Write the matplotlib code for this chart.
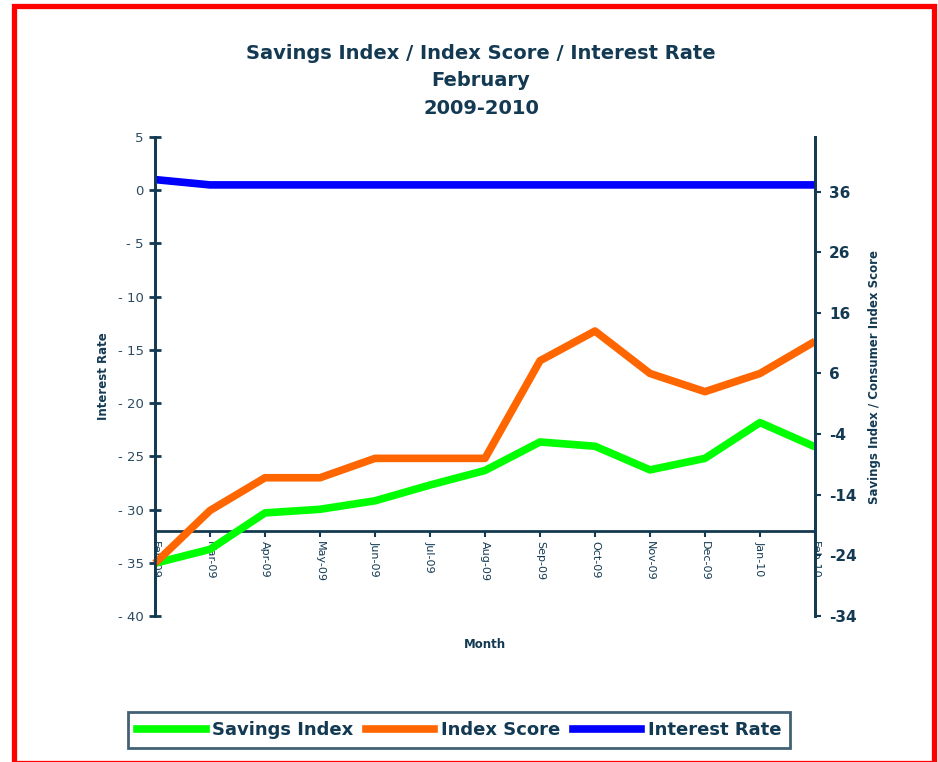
import matplotlib
matplotlib.use("Agg")
import matplotlib.pyplot as plt
from matplotlib.patches import Rectangle
from matplotlib.lines import Line2D

months = ['Feb-09', 'Mar-09', 'Apr-09', 'May-09', 'Jun-09', 'Jul-09', 'Aug-09',
          'Sep-09', 'Oct-09', 'Nov-09', 'Dec-09', 'Jan-10', 'Feb-10']
savings_index = [-25.3, -23, -17, -16.4, -15, -12.4, -10, -5.3, -6, -9.9, -8, -2.1, -6.1]
index_score = [-25.3, -16.6, -11.2, -11.2, -8, -8, -8, 8.1, 13, 6, 3, 6, 11.3]
interest_rate = [1.0, 0.5, 0.5, 0.5, 0.5, 0.5, 0.5, 0.5, 0.5, 0.5, 0.5, 0.5, 0.5]

left_ticks = [5, 0, -5, -10, -15, -20, -25, -30, -35, -40]
right_ticks = [-34, -24, -14, -4, 6, 16, 26, 36]

navy = '#133a52'
W, H = 938, 762

fig = plt.figure(figsize=(W / 100, H / 100), dpi=100)
ax = fig.add_axes([155 / W, 1 - 616 / H, 660 / W, 479 / H])
ax2 = ax.twinx()

x = list(range(len(months)))
ax.plot(x, interest_rate, color='#0000ff', lw=5.5, solid_capstyle='butt', clip_on=False, zorder=5)
ax2.plot(x, savings_index, color='#00ff00', lw=5.5, solid_capstyle='butt', clip_on=False)
ax2.plot(x, index_score, color='#ff6600', lw=5.5, solid_capstyle='butt', clip_on=False)

ax.set_xlim(0, 12)
ax.set_ylim(-40, 5)
ax2.set_ylim(-34, 45)
ax.patch.set_visible(False)

for a in (ax, ax2):
    for s in a.spines.values():
        s.set_color(navy)
        s.set_linewidth(2)
    a.spines['top'].set_visible(False)
ax2.spines['bottom'].set_visible(False)
ax.spines['bottom'].set_position(('data', -32))

ax.set_yticks(left_ticks)
ax.set_yticklabels([str(v) if v >= 0 else '- ' + str(-v) for v in left_ticks],
                   fontsize=9.5, color='#2b4a60')
ax.tick_params(axis='y', direction='inout', length=8, width=2, color=navy, pad=4)

ax2.set_yticks(right_ticks)
ax2.set_yticklabels([str(v).replace('\u2212', '-') for v in right_ticks],
                    fontsize=11, fontweight='bold', color=navy)
ax2.tick_params(axis='y', direction='out', length=4, width=1.5, color=navy, pad=6)

ax.set_xticks(x)
ax.set_xticklabels(months, rotation=270, fontsize=8, color=navy, va='top', ha='center')
ax.tick_params(axis='x', direction='out', length=4, width=1.5, color=navy, pad=3)

ax.set_ylabel('Interest Rate', fontsize=8.5, fontweight='bold', color=navy, labelpad=6)
ax2.set_ylabel('Savings Index / Consumer Index Score', fontsize=8.5, fontweight='bold',
               color=navy, labelpad=8)
fig.text(485 / W, 1 - 645 / H, 'Month', fontsize=8.5, fontweight='bold', color=navy,
         ha='center', va='center')

fig.text(481 / W, 1 - 81 / H, 'Savings Index / Index Score / Interest Rate\nFebruary\n2009-2010',
         fontsize=14, fontweight='bold', color=navy, ha='center', va='center',
         linespacing=1.55)

handles = [Line2D([], [], color='#00ff00', lw=5.5),
           Line2D([], [], color='#ff6600', lw=5.5),
           Line2D([], [], color='#0000ff', lw=5.5)]
leg = fig.legend(handles, ['Savings Index', 'Index Score', 'Interest Rate'],
                 loc='center', bbox_to_anchor=(459 / W, 1 - 730 / H), ncol=3,
                 frameon=True, fancybox=False, handlelength=3.8, handletextpad=0.35,
                 columnspacing=0.7, borderpad=0.5, borderaxespad=0,
                 prop={'size': 13, 'weight': 'bold'})
leg.get_frame().set_edgecolor(navy)
leg.get_frame().set_linewidth(2)
for t in leg.get_texts():
    t.set_color(navy)

fig.patches.append(Rectangle((13.5 / W, 1 - 763 / H), 920 / W, 756.5 / H,
                             transform=fig.transFigure, fill=False,
                             edgecolor='#ff0000', lw=3.8))

fig.savefig('out.png', dpi=100)
